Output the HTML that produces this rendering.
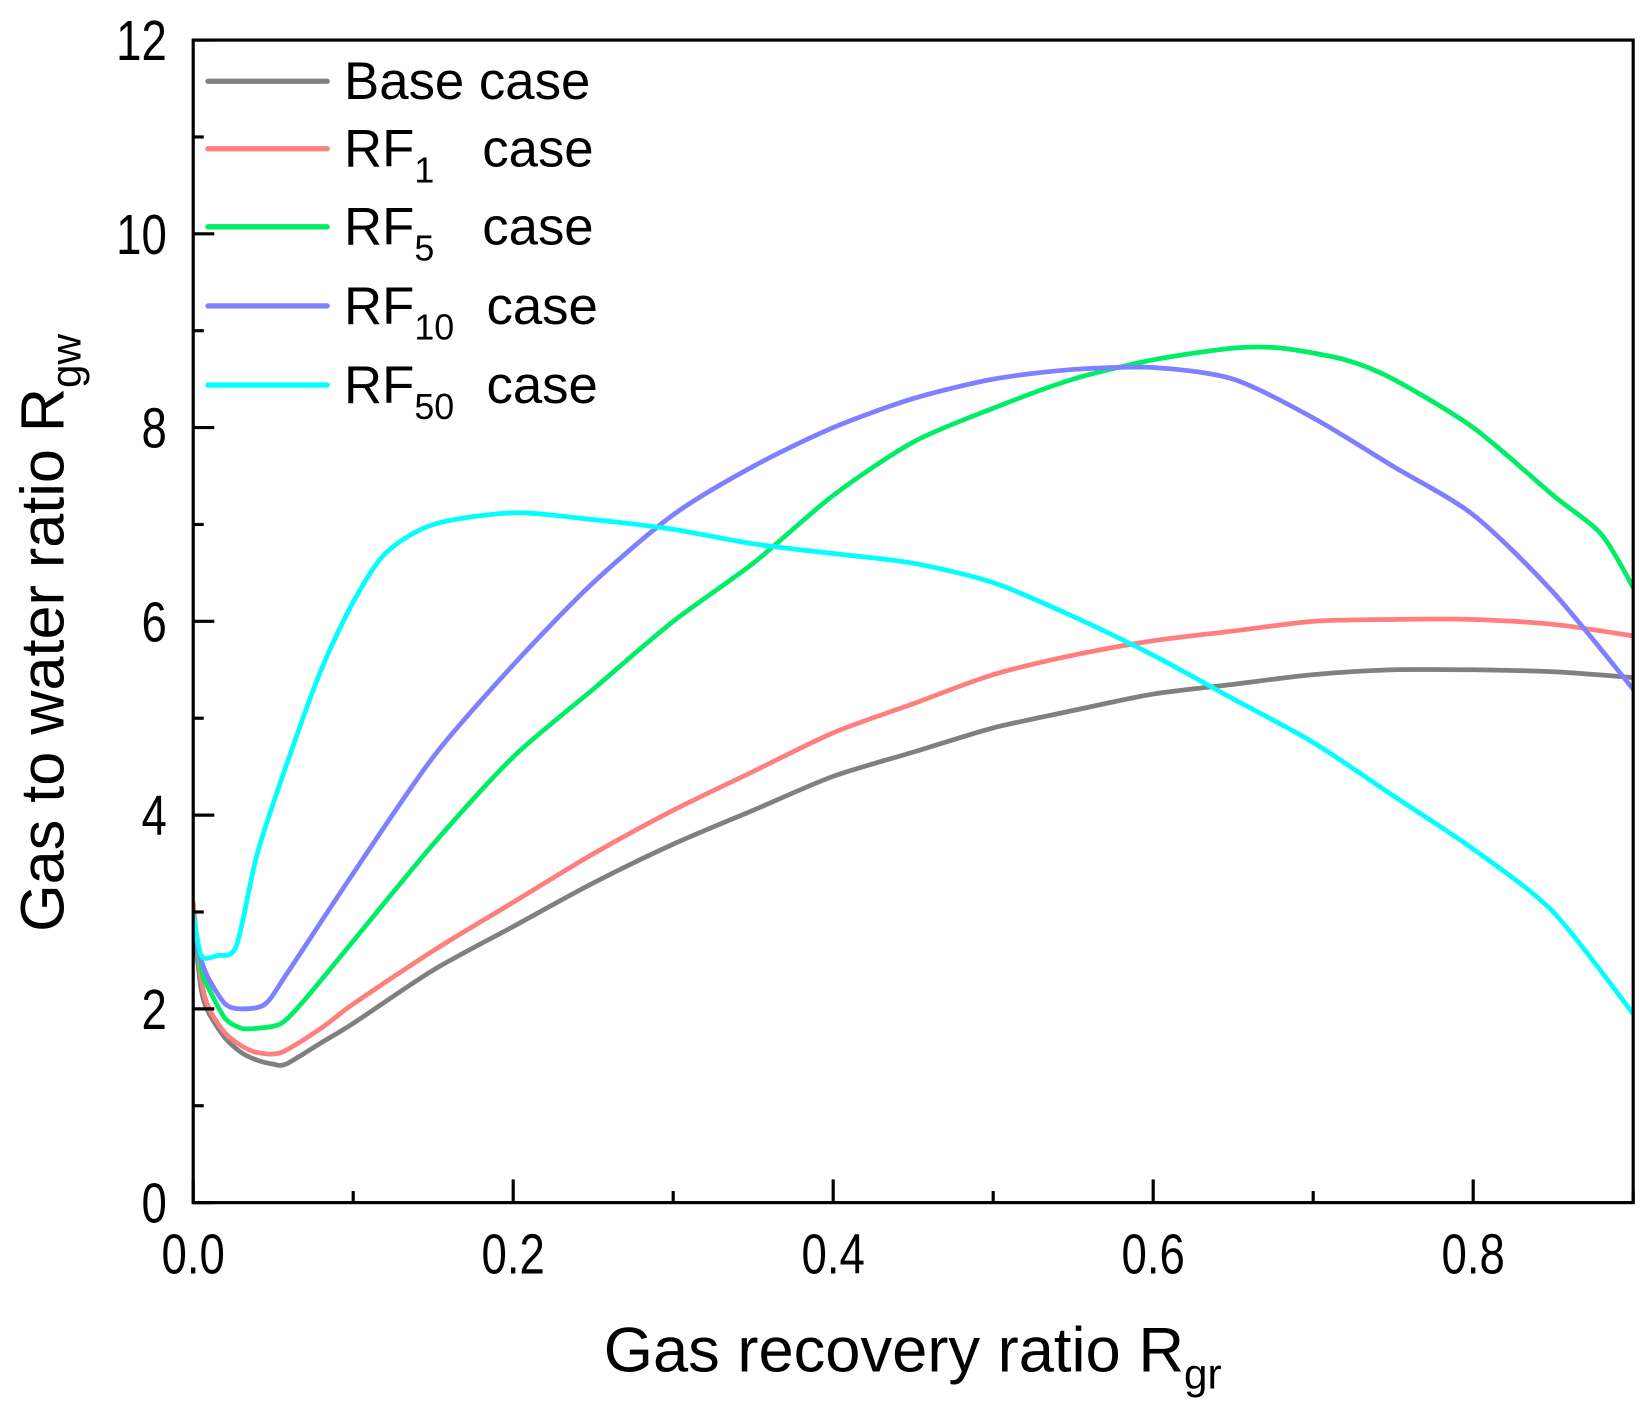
<!DOCTYPE html>
<html><head><meta charset="utf-8"><style>
html,body{margin:0;padding:0;background:#fff;}
svg{display:block;font-family:"Liberation Sans",Arial,sans-serif;}
</style></head><body>
<svg id="chart" width="1646" height="1402" viewBox="0 0 1560 1329" xmlns="http://www.w3.org/2000/svg">
<g id="plot"></g>
</svg>
<script>
const xs_base=[0,0.005,0.01,0.02,0.03,0.04,0.05,0.058,0.08,0.1,0.15,0.2,0.25,0.3,0.35,0.4,0.45,0.5,0.55,0.6,0.65,0.7,0.75,0.8,0.85,0.9];
const ys_base=[2.9,2.2,1.95,1.7,1.55,1.47,1.43,1.43,1.65,1.85,2.4,2.85,3.3,3.7,4.05,4.4,4.65,4.9,5.08,5.25,5.35,5.45,5.5,5.5,5.48,5.42];
const xs_rf1=[0,0.005,0.01,0.02,0.03,0.04,0.055,0.08,0.1,0.15,0.2,0.25,0.3,0.35,0.4,0.45,0.5,0.55,0.6,0.65,0.7,0.75,0.8,0.85,0.9];
const ys_rf1=[3.1,2.3,2.0,1.75,1.62,1.55,1.55,1.8,2.05,2.6,3.1,3.6,4.05,4.45,4.85,5.15,5.45,5.65,5.8,5.9,6.0,6.02,6.02,5.97,5.85];
const xs_rf5=[0,0.005,0.01,0.02,0.03,0.04,0.055,0.07,0.1,0.15,0.2,0.25,0.3,0.35,0.4,0.45,0.5,0.55,0.6,0.65,0.68,0.72,0.75,0.8,0.85,0.88,0.9];
const ys_rf5=[3.0,2.4,2.2,1.9,1.8,1.8,1.85,2.1,2.7,3.7,4.6,5.3,6.0,6.6,7.3,7.85,8.2,8.5,8.7,8.82,8.82,8.7,8.5,8.0,7.3,6.9,6.35];
const xs_rf10=[0,0.005,0.01,0.02,0.03,0.045,0.06,0.1,0.15,0.2,0.25,0.3,0.35,0.4,0.45,0.5,0.55,0.6,0.65,0.7,0.75,0.8,0.85,0.9];
const ys_rf10=[2.8,2.5,2.3,2.05,2.0,2.05,2.4,3.4,4.6,5.55,6.4,7.1,7.6,8.0,8.3,8.5,8.6,8.62,8.5,8.1,7.6,7.1,6.3,5.3];
const xs_rf50=[0,0.005,0.015,0.027,0.04,0.06,0.08,0.1,0.12,0.15,0.2,0.25,0.3,0.35,0.4,0.45,0.5,0.55,0.6,0.65,0.7,0.75,0.8,0.85,0.9];
const ys_rf50=[3.0,2.55,2.55,2.65,3.6,4.6,5.5,6.2,6.7,7.0,7.12,7.05,6.95,6.8,6.7,6.6,6.4,6.05,5.65,5.2,4.75,4.2,3.65,3.0,1.95];
const xTicks=[0,0.2,0.4,0.6,0.8];
const xTickLabels=["0.0","0.2","0.4","0.6","0.8"];
const yTicks=[0,2,4,6,8,10,12];
const yTickLabels=["0","2","4","6","8","10","12"];

const NS="http://www.w3.org/2000/svg";
const L=183,R=1548,T=38,B=1140,XMAX=0.9,YMAX=12;
function X(v){return L+(R-L)*v/XMAX;}
function Y(v){return B-(B-T)*v/YMAX;}
const g=document.getElementById('plot');
function el(tag,attrs,parent){const e=document.createElementNS(NS,tag);for(const k in attrs)e.setAttribute(k,attrs[k]);(parent||g).appendChild(e);return e;}

const series=[
 {name:'base',xs:xs_base,ys:ys_base,c:'#808080'},
 {name:'rf1',xs:xs_rf1,ys:ys_rf1,c:'#ff7f7f'},
 {name:'rf5',xs:xs_rf5,ys:ys_rf5,c:'#00ee66'},
 {name:'rf10',xs:xs_rf10,ys:ys_rf10,c:'#7f7fff'},
 {name:'rf50',xs:xs_rf50,ys:ys_rf50,c:'#00ffff'}
];
function smoothPath(px,py){
  let d='M'+px[0].toFixed(1)+','+py[0].toFixed(1);
  const n=px.length;
  for(let i=0;i<n-1;i++){
    const x0=px[Math.max(i-1,0)],y0=py[Math.max(i-1,0)];
    const x1=px[i],y1=py[i],x2=px[i+1],y2=py[i+1];
    const x3=px[Math.min(i+2,n-1)],y3=py[Math.min(i+2,n-1)];
    const t=1/6*0.8;
    d+='C'+(x1+(x2-x0)*t).toFixed(1)+','+(y1+(y2-y0)*t).toFixed(1)+' '+(x2-(x3-x1)*t).toFixed(1)+','+(y2-(y3-y1)*t).toFixed(1)+' '+x2.toFixed(1)+','+y2.toFixed(1);
  }
  return d;
}
const clip=el('clipPath',{id:'cp'});
el('rect',{x:L,y:T,width:R-L,height:B-T},clip);
for(const s of series){
  const d=smoothPath(s.xs.map(X),s.ys.map(Y));
  const p=el('path',{d:d,fill:'none',stroke:s.c,'stroke-width':4.5,'stroke-linejoin':'round','stroke-linecap':'round','clip-path':'url(#cp)'});
  
  
}
const fr=el('rect',{x:L,y:T,width:R-L,height:B-T,fill:'none',stroke:'#000','stroke-width':3});


for(let v=0;v<=12;v++){
  const major=v%2===0;
  const t=el('line',{x1:L,x2:L+(major?20:10),y1:Y(v),y2:Y(v),stroke:'#000','stroke-width':3});
  
  
}
yTicks.forEach((v,i)=>{
  const t=el('text',{x:0,y:0,'text-anchor':'end','font-size':54,transform:'translate(158,'+(Y(v)+19)+') scale(0.8,1)'});
  t.textContent=yTickLabels[i];
  
  
});
for(let k=0;k<=9;k++){
  const v=k*0.1, major=k%2===0;
  const t=el('line',{x1:X(v),x2:X(v),y1:B,y2:B-(major?22:11),stroke:'#000','stroke-width':3});
  
  
}
xTicks.forEach((v,i)=>{
  const t=el('text',{x:0,y:0,'text-anchor':'middle','font-size':54,transform:'translate('+X(v)+',1207) scale(0.8,1)'});
  t.textContent=xTickLabels[i];
  
  
});
const xt=el('text',{x:865,y:1300,'text-anchor':'middle','font-size':60});
xt.innerHTML='Gas recovery ratio R<tspan font-size="40" dy="16">gr</tspan>';


const yt=el('text',{x:0,y:0,'text-anchor':'middle','font-size':58,transform:'translate(60,600) rotate(-90)'});
yt.innerHTML='Gas to water ratio R<tspan font-size="40" dy="16">gw</tspan>';


const legY=[77,141,215,290,365];
const legLabels=[['Base case',''],['RF','1'],['RF','5'],['RF','10'],['RF','50']];
series.forEach((s,i)=>{
  const lg=el('g',{});
  
  
  el('line',{x1:197,x2:310,y1:legY[i],y2:legY[i],stroke:s.c,'stroke-width':5,'stroke-linecap':'round'},lg);
  const t=el('text',{x:326,y:legY[i]+17,'font-size':50},lg);
  if(i===0){t.textContent='Base case';}
  else{
    const sub=legLabels[i][1];
    t.innerHTML='RF<tspan font-size="34" dy="15">'+sub+'</tspan><tspan dy="-15" x="'+(sub.length>1?461:457)+'">case</tspan>';
  }
});
</script>
</body></html>
